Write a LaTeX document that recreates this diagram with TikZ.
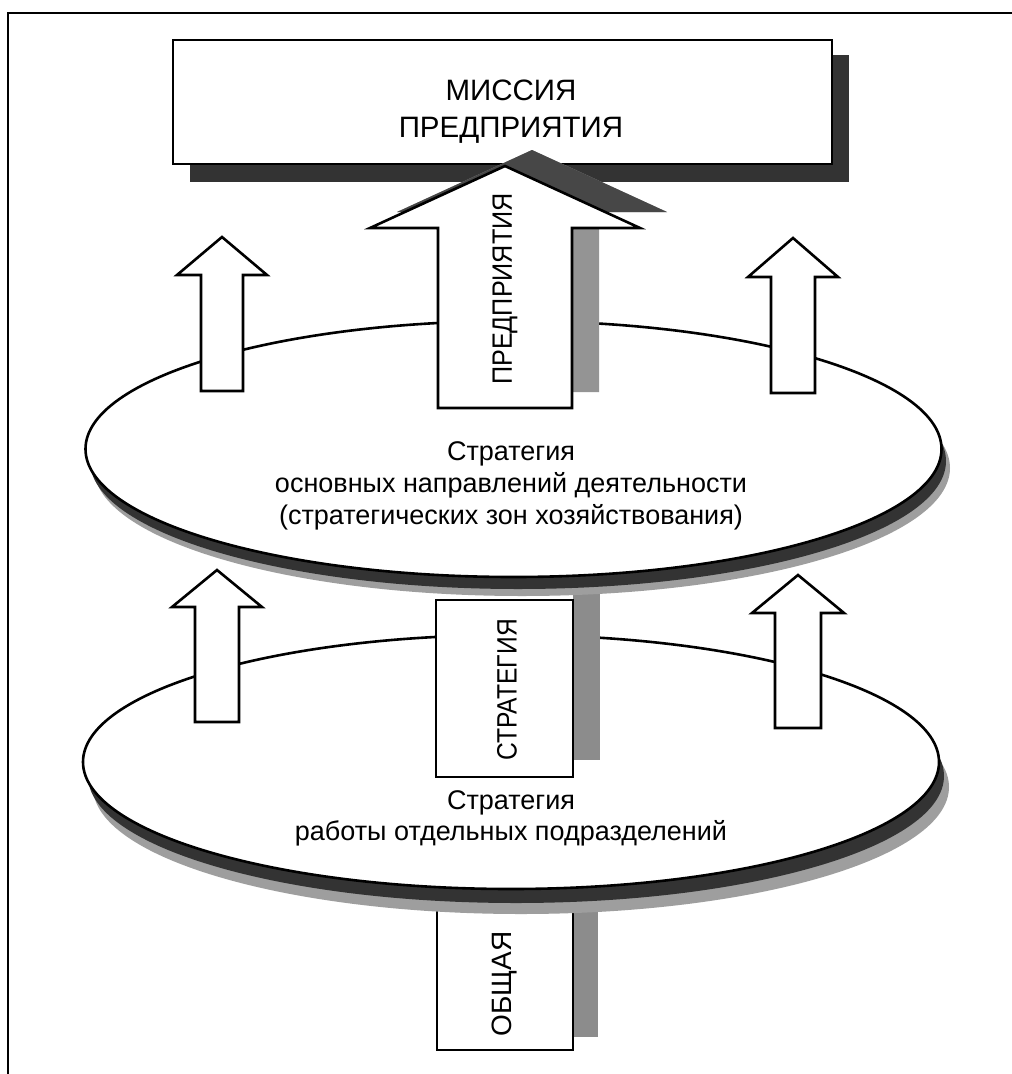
\documentclass[tikz,border=0pt]{standalone}
\usepackage{fontspec}
\setmainfont{Liberation Sans}

% up-pointing block arrow: style, centre x, tip y, head base y, half head width, half shaft width, bottom y
\newcommand\blockarrow[7]{%
  \path[#1] (#2,#3) -- ({#2+#5},#4) -- ({#2+#6},#4) -- ({#2+#6},#7)
    -- ({#2-#6},#7) -- ({#2-#6},#4) -- ({#2-#5},#4) -- cycle;}

\begin{document}
\begin{tikzpicture}[x=1pt,y=-1pt,
  outline/.style={draw=black,line width=2.6pt,fill=white,line join=miter},
  frameline/.style={draw=black,line width=2.8pt},
  darkshadow/.style={fill=black!80,draw=none},
  softshadow/.style={fill=black!38,draw=none},
  stripe/.style={fill=black!45,draw=none},
  arrowshadow/.style={fill=black!42,draw=none},
  headshadow/.style={fill=black!72,draw=none},
  title/.style={font=\fontsize{29.5pt}{35pt}\selectfont,inner sep=0pt},
  label/.style={font=\fontsize{27pt}{32pt}\selectfont,inner sep=0pt},
  vert/.style={font=\fontsize{28pt}{33pt}\selectfont,inner sep=0pt,rotate=90}]

\useasboundingbox (0,0) rectangle (1012,1074);
\fill[white] (0,0) rectangle (1012,1074);

% page frame
\draw[frameline] (8,1074) -- (8,13) -- (1012,13);

% bottom block "ОБЩАЯ"
\fill[stripe] (573,905) rectangle (598,1037);
\draw[outline] (437,895) rectangle (573,1050);
\node[vert] (general) at (505,984) {ОБЩАЯ};

% lower disc
\fill[softshadow] (521,787) ellipse [x radius=428pt, y radius=127pt];
\fill[darkshadow] (516,776) ellipse [x radius=428pt, y radius=127pt];
\draw[outline] (511,762) ellipse [x radius=428pt, y radius=127pt];
\node[label,anchor=base] (low1) at (511,809) {Стратегия};
\node[label,anchor=base] (low2) at (511,840) {работы отдельных подразделений};

% arrows standing on the lower disc
\blockarrow{outline}{217}{570}{607}{45}{22}{722}
\blockarrow{outline}{798}{575}{613}{46}{23}{728}

% middle block "СТРАТЕГИЯ"
\fill[stripe] (573,590) rectangle (600,760);
\draw[outline] (436,600) rectangle (573,777);
\node[vert] (strategy) at (507,690) {\scalebox{0.88}[1]{СТРАТЕГИЯ}};

% upper disc
\fill[softshadow] (522,468) ellipse [x radius=428pt, y radius=128pt];
\fill[darkshadow] (518,461) ellipse [x radius=428pt, y radius=128pt];
\draw[outline] (513.5,449) ellipse [x radius=428pt, y radius=128pt];
\node[label,anchor=base] (up1) at (511,460) {Стратегия};
\node[label,anchor=base] (up2) at (511,492) {основных направлений деятельности};
\node[label,anchor=base] (up3) at (511,524) {(стратегических зон хозяйствования)};

% arrows standing on the upper disc
\blockarrow{outline}{222}{237}{275}{45}{21}{391}
\blockarrow{outline}{793}{238}{277}{45}{22}{393}

% mission box
\fill[darkshadow] (190,55) rectangle (849,182);
\draw[outline] (173,40) rectangle (832,164);
\node[title,anchor=base] (m1) at (511,100) {МИССИЯ};
\node[title,anchor=base] (m2) at (511,137) {ПРЕДПРИЯТИЯ};

% central arrow with its shadow (lighter along the shaft, darker under the head)
\begin{scope}[shift={(27,-16)}]
  \blockarrow{arrowshadow}{505}{166}{228}{135}{67}{408}
  \fill[headshadow] (505,166) -- (640,228) -- (370,228) -- cycle;
\end{scope}
\blockarrow{outline}{505}{166}{228}{135}{67}{408}
\node[vert] (enterprise) at (505,289) {\scalebox{0.9}[1]{ПРЕДПРИЯТИЯ}};

\end{tikzpicture}
\end{document}
